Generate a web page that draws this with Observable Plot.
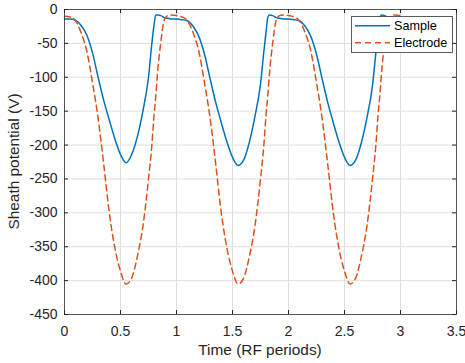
<!DOCTYPE html>
<html>
<head>
<meta charset="utf-8">
<script src="https://cdn.jsdelivr.net/npm/d3@7"></script>
<script src="https://cdn.jsdelivr.net/npm/@observablehq/plot@0.6"></script>
<style>
  html, body { margin: 0; padding: 0; background: white; }
  #chart { width: 465px; height: 363px; }
</style>
</head>
<body>
<div id="chart"></div>
<script>
// Time axis (RF periods)
const time = [
  0, 0.05, 0.1, 0.15, 0.2, 0.25, 0.3, 0.35, 0.4, 0.45, 0.5, 0.55, 0.6, 0.65, 0.7, 0.75, 0.78, 0.8, 0.815, 0.83, 0.86, 0.89, 0.92, 0.95,
  1, 1.05, 1.1, 1.15, 1.2, 1.25, 1.3, 1.35, 1.4, 1.45, 1.5, 1.55, 1.6, 1.65, 1.7, 1.75, 1.78, 1.8, 1.815, 1.83, 1.86, 1.89, 1.92, 1.95,
  2, 2.05, 2.1, 2.15, 2.2, 2.25, 2.3, 2.35, 2.4, 2.45, 2.5, 2.55, 2.6, 2.65, 2.7, 2.75, 2.78, 2.8, 2.815, 2.83, 2.86, 2.89, 2.92, 2.95,
  3.0
];
// Sheath potential (V) at the sample
const sample = [
  -14, -14, -16, -24, -38, -64, -100, -134, -163, -191, -214, -226, -214, -188, -150, -100, -50, -22, -8, -8, -9, -12, -13, -14,
  -14, -15, -17, -25, -40, -66, -102, -137, -167, -195, -218, -230, -222, -196, -158, -110, -62, -32, -12, -8, -9, -12, -13, -14,
  -14, -15, -17, -25, -40, -66, -102, -137, -167, -195, -218, -230, -222, -197, -160, -112, -64, -34, -13, -8, -9, -12, -13, -14,
  -14
];
// Sheath potential (V) at the electrode
const electrode = [
  -10, -11, -17, -35, -62, -108, -160, -228, -300, -352, -386, -405, -396, -365, -320, -250, -200, -155, -128, -95, -48, -16, -9, -8,
  -9, -11, -17, -35, -62, -108, -160, -228, -300, -352, -386, -405, -396, -365, -320, -250, -200, -155, -128, -95, -48, -16, -9, -8,
  -9, -11, -17, -35, -62, -108, -160, -228, -300, -352, -386, -405, -396, -365, -320, -250, -200, -155, -128, -95, -48, -16, -9, -8,
  -9
];
const seriesNames = ["Sample", "Electrode"];
const xTicks = [0, 0.5, 1, 1.5, 2, 2.5, 3, 3.5];
const yTicks = [0, -50, -100, -150, -200, -250, -300, -350, -400, -450];
const xTitle = "Time (RF periods)";
const yTitle = "Sheath potential (V)";

const sampleData = time.map((t, i) => ({t, v: sample[i]}));
const electrodeData = time.map((t, i) => ({t, v: electrode[i]}));

const W = 465, H = 363;
const mL = 64, mR = 9, mT = 9, mB = 49;
const pw = W - mL - mR, ph = H - mT - mB;
const tickLen = 4;
const axisColor = "#262626";
const font = "'Liberation Sans', Arial, Helvetica, sans-serif";

const svg = Plot.plot({
  width: W,
  height: H,
  marginLeft: mL,
  marginRight: mR,
  marginTop: mT,
  marginBottom: mB,
  style: {fontFamily: font, fontSize: "14px", color: axisColor, background: "white", overflow: "visible"},
  x: {domain: [0, 3.5], ticks: xTicks},
  y: {domain: [-450, 0], ticks: yTicks},
  marks: [
    Plot.gridX(xTicks, {stroke: "#dfdfdf", strokeOpacity: 1, strokeWidth: 1}),
    Plot.gridY(yTicks, {stroke: "#dfdfdf", strokeOpacity: 1, strokeWidth: 1}),
    Plot.line(sampleData, {x: "t", y: "v", stroke: "#0072BD", strokeWidth: 1.5, curve: "monotone-x"}),
    Plot.line(electrodeData, {x: "t", y: "v", stroke: "#D95319", strokeWidth: 1.5, strokeDasharray: "6,4", curve: "monotone-x"}),
    // inward ticks on all four sides
    Plot.tickX(xTicks, {x: d => d, insetTop: ph - tickLen, stroke: axisColor}),
    Plot.tickX(xTicks, {x: d => d, insetBottom: ph - tickLen, stroke: axisColor}),
    Plot.tickY(yTicks, {y: d => d, insetRight: pw - tickLen, stroke: axisColor}),
    Plot.tickY(yTicks, {y: d => d, insetLeft: pw - tickLen, stroke: axisColor}),
    Plot.frame({stroke: axisColor, strokeOpacity: 0.75}),
    Plot.axisX(xTicks, {tickSize: 0, tickPadding: 12, label: null, fontSize: 14, fill: axisColor, tickFormat: d => String(d)}),
    Plot.axisY(yTicks, {tickSize: 0, tickPadding: 7, label: null, fontSize: 14, fill: axisColor, tickFormat: d => String(d)})
  ]
});

const s = d3.select(svg);
// axis titles
s.append("text")
  .attr("x", 260).attr("y", 355)
  .attr("text-anchor", "middle")
  .attr("font-family", font).attr("font-size", 15.4).attr("fill", axisColor)
  .text(xTitle);
s.append("text")
  .attr("transform", "translate(18.5,161.5) rotate(-90)")
  .attr("text-anchor", "middle")
  .attr("font-family", font).attr("font-size", 15.4).attr("fill", axisColor)
  .text(yTitle);

// legend (top-right, inside axes)
const lg = s.append("g").attr("text-anchor", "start");
lg.append("rect")
  .attr("x", 351.5).attr("y", 16.5).attr("width", 101).attr("height", 36)
  .attr("fill", "white").attr("stroke", axisColor).attr("stroke-opacity", 0.75);
const entries = [
  {name: seriesNames[0], color: "#0072BD", dash: null, y: 25.7},
  {name: seriesNames[1], color: "#D95319", dash: "6,4", y: 42.7}
];
entries.forEach(e => {
  const ln = lg.append("line")
    .attr("x1", 355).attr("x2", 390).attr("y1", e.y).attr("y2", e.y)
    .attr("stroke", e.color).attr("stroke-width", 1.5);
  if (e.dash) ln.attr("stroke-dasharray", e.dash);
  lg.append("text")
    .attr("x", 394).attr("y", e.y).attr("dy", "0.35em")
    .attr("text-anchor", "start")
    .attr("font-family", font).attr("font-size", 12.6).attr("fill", "#000")
    .text(e.name);
});

document.getElementById("chart").appendChild(svg);
</script>
</body>
</html>
